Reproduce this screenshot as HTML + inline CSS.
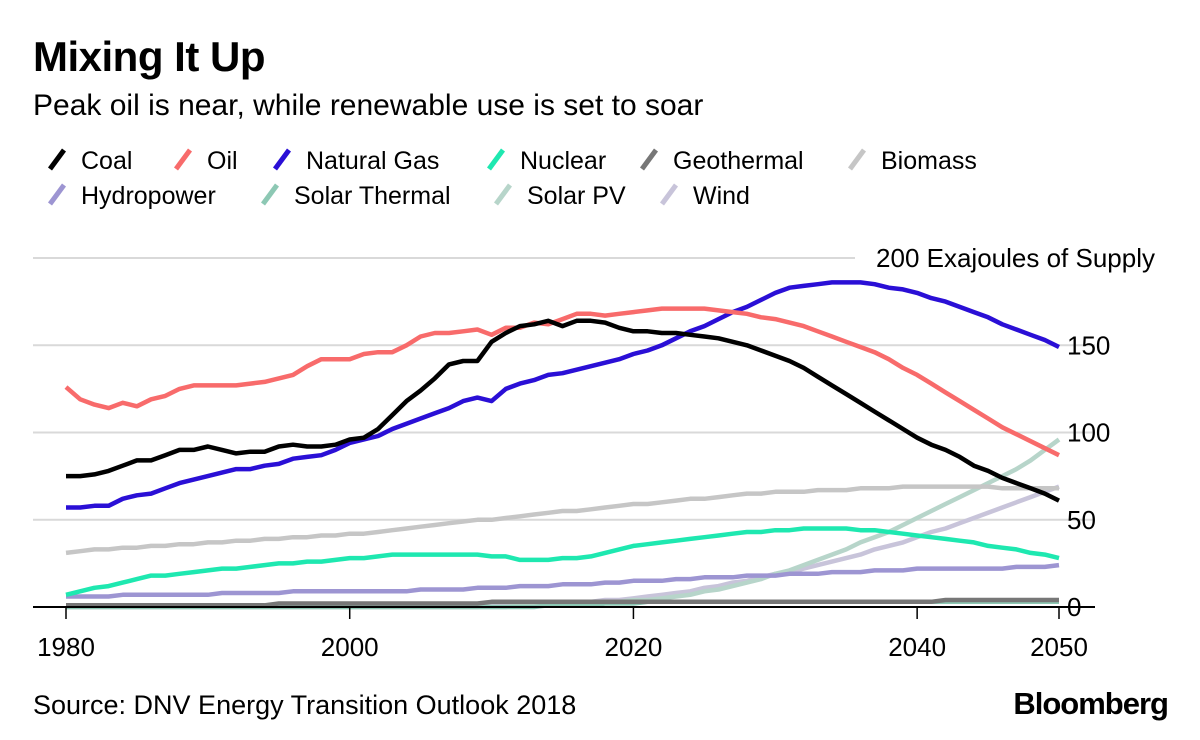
<!DOCTYPE html>
<html><head><meta charset="utf-8"><style>
body{margin:0;background:#fff;font-family:"Liberation Sans",sans-serif;}
svg text{font-family:"Liberation Sans",sans-serif;}
</style></head><body>
<svg id="c" width="1200" height="735" viewBox="0 0 1200 735">
<text x="33" y="71" font-size="42" font-weight="bold" fill="#000" letter-spacing="-0.5">Mixing It Up</text>
<text x="33" y="115" font-size="30" fill="#000">Peak oil is near, while renewable use is set to soar</text>
<g id="legend"></g>
<g id="grid"></g>
<g id="series"></g>
<g id="axes"></g>
<text x="33" y="714" font-size="27" fill="#000">Source: DNV Energy Transition Outlook 2018</text>
<text x="1168" y="714" font-size="31" font-weight="bold" text-anchor="end" fill="#000" letter-spacing="-1">Bloomberg</text>
</svg>
<script>
const years=[];for(let y=1980;y<=2050;y++)years.push(y);
const seriesNames=["Coal","Oil","Natural Gas","Nuclear","Geothermal","Biomass","Hydropower","Solar Thermal","Solar PV","Wind"];
const coal=[75,75,76,78,81,84,84,87,90,90,92,90,88,89,89,92,93,92,92,93,96,97,102,110,118,124,131,139,141,141,152,157,161,162,164,161,164,164,163,160,158,158,157,157,156,155,154,152,150,147,144,141,137,132,127,122,117,112,107,102,97,93,90,86,81,78,74,71,68,65,61];
const oil=[126,119,116,114,117,115,119,121,125,127,127,127,127,128,129,131,133,138,142,142,142,145,146,146,150,155,157,157,158,159,156,160,160,163,162,165,168,168,167,168,169,170,171,171,171,171,170,169,168,166,165,163,161,158,155,152,149,146,142,137,133,128,123,118,113,108,103,99,95,91,87];
const gas=[57,57,58,58,62,64,65,68,71,73,75,77,79,79,81,82,85,86,87,90,94,96,98,102,105,108,111,114,118,120,118,125,128,130,133,134,136,138,140,142,145,147,150,154,158,161,165,169,172,176,180,183,184,185,186,186,186,185,183,182,180,177,175,172,169,166,162,159,156,153,149];
const nuclear=[7,9,11,12,14,16,18,18,19,20,21,22,22,23,24,25,25,26,26,27,28,28,29,30,30,30,30,30,30,30,29,29,27,27,27,28,28,29,31,33,35,36,37,38,39,40,41,42,43,43,44,44,45,45,45,45,44,44,43,42,41,40,39,38,37,35,34,33,31,30,28];
const geothermal=[1,1,1,1,1,1,1,1,1,1,1,1,1,1,1,2,2,2,2,2,2,2,2,2,2,2,2,2,2,2,3,3,3,3,3,3,3,3,3,3,3,3,3,3,3,3,3,3,3,3,3,3,3,3,3,3,3,3,3,3,3,3,4,4,4,4,4,4,4,4,4];
const biomass=[31,32,33,33,34,34,35,35,36,36,37,37,38,38,39,39,40,40,41,41,42,42,43,44,45,46,47,48,49,50,50,51,52,53,54,55,55,56,57,58,59,59,60,61,62,62,63,64,65,65,66,66,66,67,67,67,68,68,68,69,69,69,69,69,69,69,68,68,68,68,68];
const hydro=[6,6,6,6,7,7,7,7,7,7,7,8,8,8,8,8,9,9,9,9,9,9,9,9,9,10,10,10,10,11,11,11,12,12,12,13,13,13,14,14,15,15,15,16,16,17,17,17,18,18,18,19,19,19,20,20,20,21,21,21,22,22,22,22,22,22,22,23,23,23,24];
const solarThermal=[0,0,0,0,0,0,0,0,0,0,0,0,0,0,0,0,0,0,0,0,0,0,0,0,0,0,0,0,0,0,0,0,0,0,1,1,1,1,2,2,2,3,3,3,3,3,3,3,3,3,3,3,3,3,3,3,3,3,3,3,3,3,3,3,3,3,3,3,3,3,3];
const solarPV=[0,0,0,0,0,0,0,0,0,0,0,0,0,0,0,0,0,0,0,0,0,0,0,0,0,0,0,0,0,0,0,0,1,1,1,2,2,2,3,3,4,4,5,6,7,9,10,12,14,16,19,21,24,27,30,33,37,40,43,47,51,55,59,63,67,71,75,79,84,90,96];
const wind=[0,0,0,0,0,0,0,0,0,0,0,0,0,0,0,0,0,0,0,0,0,0,0,0,0,0,0,0,0,0,1,1,1,2,2,3,3,3,4,4,5,6,7,8,9,11,12,14,15,17,19,20,22,24,26,28,30,33,35,37,40,43,45,48,51,54,57,60,63,66,69];
const yTicks=[50,100,150,200];
const xTicks=[1980,2000,2020,2040,2050];
const colors=["#000000","#f86b6b","#2a0fd6","#1ee8b0","#777777","#c6c6c6","#9d95d2","#8dc8b4","#b7d5ca","#c8c4da"];
const allSeries=[coal,oil,gas,nuclear,geothermal,biomass,hydro,solarThermal,solarPV,wind];
const NS="http://www.w3.org/2000/svg";
const x=v=>66+(v-1980)*(1059-66)/70;
const y=v=>607-v*(607-258)/200;
function mk(tag,attrs,parent){const e=document.createElementNS(NS,tag);for(const k in attrs)e.setAttribute(k,attrs[k]);parent.appendChild(e);return e;}
const grid=document.getElementById('grid'),axes=document.getElementById('axes'),ser=document.getElementById('series'),leg=document.getElementById('legend');
yTicks.forEach(t=>{
  const l=mk('line',{x1:33,x2:t===200?855:1095,y1:y(t),y2:y(t),stroke:'#d9d9d9','stroke-width':2},grid);
  
  
  const tx=mk('text',{x:t===200?1155:1067,y:y(t)+9,'font-size':26,'text-anchor':t===200?'end':'start'},grid);
  tx.textContent=t===200?'200 Exajoules of Supply':String(t);
  
  
});
const z=mk('text',{x:1067,y:y(0)+9,'font-size':26},axes);z.textContent='0';


const ax=mk('line',{x1:33,x2:1095,y1:y(0),y2:y(0),stroke:'#000','stroke-width':2},axes);


xTicks.forEach(t=>{
  const l=mk('line',{x1:x(t),x2:x(t),y1:y(0),y2:y(0)+12,stroke:'#000','stroke-width':1.5},axes);
  
  
  const tx=mk('text',{x:x(t),y:656,'font-size':26,'text-anchor':'middle'},axes);tx.textContent=t;
  
  
});
for(let i=allSeries.length-1;i>=0;i--){
  const d=allSeries[i].map((v,j)=>(j?'L':'M')+x(years[j]).toFixed(1)+','+y(v).toFixed(1)).join('');
  const p=mk('path',{d:d,fill:'none',stroke:colors[i],'stroke-width':4.5,'stroke-linejoin':'round'},ser);
  
  
}
const legPos=[[48,169],[174,169],[273,169],[487,169],[640,169],[848,169],[48,204],[261,204],[494,204],[660,204]];
seriesNames.forEach((n,i)=>{
  const [lx,ly]=legPos[i];
  const g=mk('g',{},leg);
  
  
  mk('line',{x1:lx+2,y1:ly,x2:lx+16,y2:ly-19,stroke:colors[i],'stroke-width':5},g);
  const t=mk('text',{x:lx+33,y:ly,'font-size':25},g);t.textContent=n;
});
</script>
</body></html>
